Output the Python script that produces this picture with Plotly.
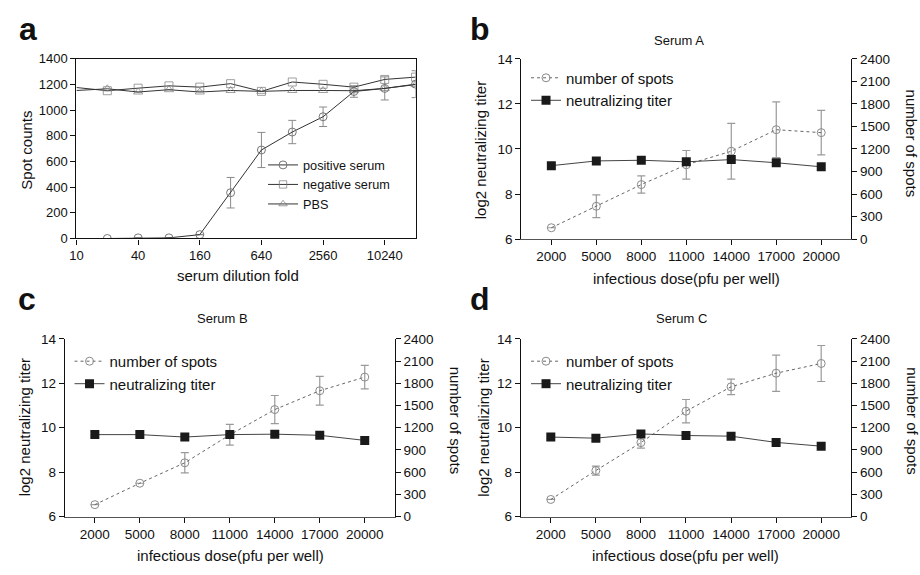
import plotly.graph_objects as go

# ---------------- data ----------------
dilution = [10, 20, 40, 80, 160, 320, 640, 1280, 2560, 5120, 10240, 20480]
dilution_ticks = [10, 40, 160, 640, 2560, 10240]
positive = [None, 0, 5, 5, 30, 357, 690, 830, 949, 1146, 1170, 1203]
positive_err = [0, 0, 0, 0, 0, 119, 137, 91, 76, 45, 90, 105]
negative = [1177, 1152, 1172, 1190, 1180, 1207, 1147, 1220, 1202, 1180, 1240, 1258]
pbs = [1154, 1167, 1142, 1160, 1142, 1154, 1147, 1154, 1154, 1152, 1170, 1200]

dose = [2000, 5000, 8000, 11000, 14000, 17000, 20000]
spotsA = [151, 437, 726, 990, 1170, 1457, 1418]
spotsA_err = [0, 151, 115, 190, 372, 372, 296]
titerA = [9.26, 9.47, 9.50, 9.43, 9.53, 9.39, 9.21]
spotsB = [162, 451, 727, 1104, 1445, 1699, 1883]
spotsB_err = [0, 0, 136, 140, 190, 195, 158]
titerB = [9.69, 9.69, 9.58, 9.69, 9.71, 9.66, 9.43]
spotsC = [232, 622, 999, 1423, 1752, 1936, 2067]
spotsC_err = [0, 61, 75, 158, 105, 245, 243]
titerC = [9.58, 9.53, 9.72, 9.65, 9.62, 9.34, 9.17]

W, H = 920, 575
FONT = "Liberation Sans, Arial, sans-serif"
DARK = "#333333"
GREY = "#8a8a8a"

def px(x):
    return x / W

def py(y):
    return 1 - y / H

fig = go.Figure()

# ---------------- panel a ----------------
hidden_first = [0] + [8] * (len(dilution) - 1)
fig.add_trace(go.Scatter(
    x=dilution, y=positive, name="positive serum", mode="lines+markers",
    line=dict(color=DARK, width=1),
    marker=dict(symbol="circle-open", size=8, color="#777777", line=dict(width=1)),
    error_y=dict(type="data", array=positive_err, color=GREY, thickness=1, width=4),
    xaxis="x", yaxis="y", legend="legend"))
fig.add_trace(go.Scatter(
    x=dilution, y=negative, name="negative serum", mode="lines+markers",
    line=dict(color=DARK, width=1),
    marker=dict(symbol="square-open", size=hidden_first, color="#777777", line=dict(width=1)),
    xaxis="x", yaxis="y", legend="legend"))
fig.add_trace(go.Scatter(
    x=dilution, y=pbs, name="PBS", mode="lines+markers",
    line=dict(color=DARK, width=1),
    marker=dict(symbol="triangle-up-open", size=hidden_first, color="#777777", line=dict(width=1)),
    xaxis="x", yaxis="y", legend="legend"))

# ---------------- panels b, c, d ----------------
panels = [
    ("x2", "y2", "y3", "legend2", spotsA, spotsA_err, titerA),
    ("x3", "y4", "y5", "legend3", spotsB, spotsB_err, titerB),
    ("x4", "y6", "y7", "legend4", spotsC, spotsC_err, titerC),
]
for xa, ys, yt, lg, sp, spe, ti in panels:
    fig.add_trace(go.Scatter(
        x=dose, y=sp, name="number of spots", mode="lines+markers",
        line=dict(color="#666666", width=1, dash="dot"),
        marker=dict(symbol="circle-open", size=8, color="#8a8a8a", line=dict(width=1)),
        error_y=dict(type="data", array=spe, color="#9a9a9a", thickness=1.2, width=4),
        xaxis=xa, yaxis=ys, legend=lg))
    fig.add_trace(go.Scatter(
        x=dose, y=ti, name="neutralizing titer", mode="lines+markers",
        line=dict(color="#444444", width=1),
        marker=dict(symbol="square", size=9, color="#1a1a1a"),
        xaxis=xa, yaxis=yt, legend=lg))

def axstyle(size):
    return dict(showline=True, linecolor="#111111", linewidth=1.3, ticks="outside",
                ticklen=5, tickwidth=1.2, tickcolor="#111111", showgrid=False,
                zeroline=False, tickfont=dict(family=FONT, size=size, color="#111111"))

layout = dict(
    width=W, height=H, margin=dict(l=0, r=0, t=0, b=0),
    paper_bgcolor="white", plot_bgcolor="white",
    font=dict(family=FONT, color="#111111"),
    xaxis=dict(domain=[px(70), px(411.7)], anchor="y", type="log",
               range=[1, 4.3113], tickvals=dilution_ticks,
               ticktext=[str(v) for v in dilution_ticks], mirror=True, **axstyle(13)),
    yaxis=dict(domain=[py(237.7), py(53.3)], anchor="x", range=[0, 1400],
               tickvals=list(range(0, 1401, 200)), mirror=True, **axstyle(13)),
)

geo = [
    ("xaxis2", "yaxis2", "yaxis3", "x2", "y2", 518.3, 850.7, 53.3, 238.3),
    ("xaxis3", "yaxis4", "yaxis5", "x3", "y4", 58.3, 390.7, 340.7, 523.3),
    ("xaxis4", "yaxis6", "yaxis7", "x4", "y6", 517.7, 850.7, 340.7, 523.3),
]
for xk, ysk, ytk, xid, ysid, x0, x1, yt0, yb0 in geo:
    layout[xk] = dict(domain=[px(x0), px(x1)], anchor=ysid, range=[0, 22000],
                      tickvals=dose, ticktext=[str(v) for v in dose], **axstyle(13.5))
    layout[xk]["linecolor"] = "#555555"
    layout[ysk] = dict(domain=[py(yb0), py(yt0)], anchor=xid, side="right",
                       range=[0, 2400], tickvals=list(range(0, 2401, 300)), **axstyle(13.5))
    layout[ytk] = dict(overlaying=ysid, anchor=xid, side="left", range=[6, 14],
                       tickvals=[6, 8, 10, 12, 14], **axstyle(13.5))

def legend_at(x, y, size):
    return dict(x=px(x), y=py(y), xanchor="left", yanchor="top",
                bgcolor="rgba(0,0,0,0)", itemwidth=30, tracegroupgap=0,
                font=dict(family=FONT, size=size, color="#111111"))

layout["legend"] = legend_at(258, 147, 12.7)
layout["legend2"] = legend_at(523, 56, 15)
layout["legend3"] = legend_at(63, 347, 15)
layout["legend4"] = legend_at(523, 347, 15)

ann = []
def text(t, x, y, size=15, angle=0, bold=False):
    ann.append(dict(text=("<b>%s</b>" % t) if bold else t, x=px(x), y=py(y),
                    xref="paper", yref="paper", showarrow=False, textangle=angle,
                    xanchor="center", yanchor="middle",
                    font=dict(family=FONT, size=size, color="#111111")))

# panel letters
text("a", 21.3, 22.5, size=32, bold=True)
text("b", 476.5, 22.5, size=32, bold=True)
text("c", 20, 299.5, size=32, bold=True)
text("d", 476.5, 299.5, size=32, bold=True)
# panel a titles
text("Spot counts", 20, 146.7, angle=-90)
text("serum dilution fold", 233, 276)
# panel b
text("Serum A", 676.7, 34.3, size=13)
text("log2 neutralizing titer", 478, 146.7, angle=-90)
text("number of spots", 911.7, 140, angle=90)
text("infectious dose(pfu per well)", 685, 278.7)
# panel c
text("Serum B", 216.7, 320, size=13)
text("log2 neutralizing titer", 18, 431.7, angle=-90)
text("number of spots", 451.7, 425, angle=90)
text("infectious dose(pfu per well)", 225, 563.7)
# panel d
text("Serum C", 680, 320, size=13)
text("log2 neutralizing titer", 480, 431.7, angle=-90)
text("number of spots", 911.7, 425, angle=90)
text("infectious dose(pfu per well)", 684, 563.7)

layout["annotations"] = ann
fig.update_layout(**layout)
fig.write_html("out.html")
